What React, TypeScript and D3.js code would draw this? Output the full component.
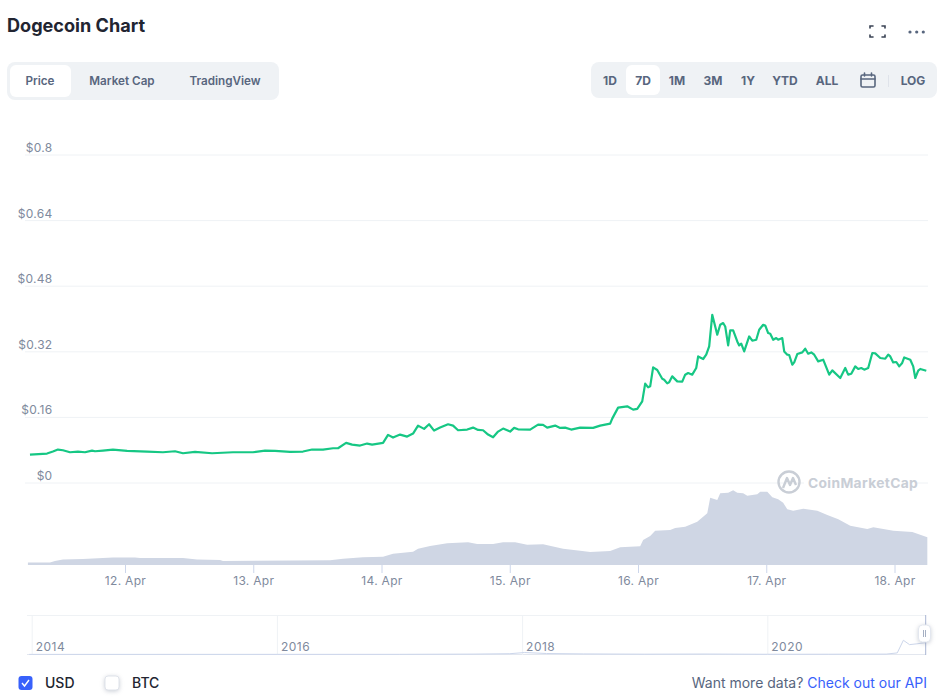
import React, { useRef, useEffect } from 'react';
import * as d3 from 'd3';

// days are April dates with the time of day as a fraction
const priceDays = [
    11.259, 11.392, 11.438, 11.477, 11.516, 11.571, 11.633, 11.688, 11.743, 11.766, 11.828, 11.906,
    12.016, 12.172, 12.296, 12.39, 12.452, 12.546, 12.679, 12.842, 12.998, 13.092, 13.17, 13.287,
    13.388, 13.459, 13.544, 13.622, 13.661, 13.724, 13.771, 13.833, 13.888, 13.927, 14.012, 14.051,
    14.09, 14.145, 14.2, 14.246, 14.285, 14.332, 14.371, 14.41, 14.457, 14.519, 14.558, 14.597,
    14.668, 14.714, 14.753, 14.792, 14.831, 14.87, 14.909, 14.948, 15.003, 15.034, 15.065, 15.159,
    15.221, 15.26, 15.292, 15.354, 15.393, 15.432, 15.479, 15.549, 15.65, 15.705, 15.744, 15.783,
    15.799, 15.845, 15.916, 15.962, 15.994, 16.033, 16.056, 16.079, 16.095, 16.118, 16.15, 16.189,
    16.204, 16.228, 16.243, 16.267, 16.306, 16.345, 16.368, 16.391, 16.423, 16.454, 16.469, 16.508,
    16.532, 16.555, 16.579, 16.602, 16.618, 16.641, 16.664, 16.68, 16.703, 16.719, 16.742, 16.774,
    16.789, 16.805, 16.828, 16.867, 16.891, 16.922, 16.945, 16.976, 16.992, 17.015, 17.031, 17.054,
    17.078, 17.093, 17.125, 17.14, 17.164, 17.179, 17.203, 17.218, 17.242, 17.281, 17.304, 17.327,
    17.351, 17.374, 17.405, 17.444, 17.491, 17.515, 17.577, 17.616, 17.639, 17.663, 17.694, 17.717,
    17.741, 17.764, 17.795, 17.827, 17.85, 17.889, 17.928, 17.951, 17.967, 17.99, 18.014, 18.037,
    18.06, 18.076, 18.123, 18.146, 18.162, 18.185, 18.201, 18.248,
];
const prices = [
    0.0682, 0.0706, 0.0755, 0.0804, 0.0787, 0.0738, 0.0755, 0.0738, 0.0779, 0.0762, 0.0779, 0.0804,
    0.0772, 0.0755, 0.0738, 0.0762, 0.0713, 0.0748, 0.0713, 0.0738, 0.0738, 0.0779, 0.0772, 0.0748,
    0.0755, 0.0804, 0.0804, 0.0835, 0.0835, 0.0967, 0.0925, 0.0901, 0.095, 0.0925, 0.0967, 0.1161,
    0.1096, 0.1169, 0.112, 0.1193, 0.1388, 0.1308, 0.142, 0.1266, 0.1339, 0.142, 0.1388, 0.1274,
    0.1291, 0.1339, 0.1283, 0.1274, 0.1169, 0.1103, 0.1242, 0.1315, 0.1242, 0.1332, 0.1298, 0.1291,
    0.1412, 0.1405, 0.1339, 0.1388, 0.1332, 0.1339, 0.1291, 0.1339, 0.1332, 0.1388, 0.1412, 0.1437,
    0.1558, 0.1826, 0.1858, 0.1778, 0.1795, 0.198, 0.2411, 0.2321, 0.2345, 0.2808, 0.2744, 0.2532,
    0.2508, 0.2418, 0.2443, 0.2589, 0.2467, 0.246, 0.263, 0.2671, 0.263, 0.2793, 0.3075, 0.3012,
    0.3117, 0.3319, 0.4091, 0.3806, 0.3604, 0.3847, 0.3889, 0.3806, 0.3343, 0.3709, 0.3709, 0.3441,
    0.3343, 0.3385, 0.3197, 0.3562, 0.3458, 0.3482, 0.3726, 0.3847, 0.3831, 0.3645, 0.3628, 0.3482,
    0.3523, 0.3482, 0.3523, 0.3197, 0.3117, 0.311, 0.2873, 0.2929, 0.3134, 0.3173, 0.3263, 0.3141,
    0.3173, 0.3117, 0.2954, 0.2995, 0.263, 0.2735, 0.2549, 0.2793, 0.263, 0.2654, 0.2832, 0.2769,
    0.2793, 0.2752, 0.2793, 0.3158, 0.3149, 0.3036, 0.3019, 0.3117, 0.3075, 0.2929, 0.2939, 0.2832,
    0.2915, 0.3051, 0.2995, 0.2832, 0.2549, 0.2727, 0.2769, 0.2727,
];

const volumeDays = [
    11.243, 11.415, 11.454, 11.516, 11.672, 11.906, 12.078, 12.117, 12.452, 12.562, 12.741, 12.764,
    13.599, 13.7, 13.856, 14.012, 14.09, 14.246, 14.285, 14.379, 14.512, 14.675, 14.746, 14.87,
    14.948, 15.042, 15.136, 15.26, 15.416, 15.549, 15.627, 15.783, 15.861, 16.017, 16.04, 16.095,
    16.134, 16.251, 16.29, 16.368, 16.462, 16.54, 16.563, 16.618, 16.641, 16.703, 16.742, 16.774,
    16.82, 16.852, 16.93, 16.953, 17.008, 17.047, 17.093, 17.132, 17.164, 17.21, 17.289, 17.398,
    17.476, 17.562, 17.655, 17.788, 17.835, 17.991, 18.139, 18.256,
];
// volume has no axis in the picture, so these are only relative heights
const volumes = [
    2.5, 2.5, 4, 5.5, 6, 7.5, 7.5, 7, 7, 5.5, 5, 4,
    4.7, 6.3, 7.7, 8.3, 11.3, 13.3, 16.3, 19, 21.7, 22.7, 21, 21,
    22.7, 22.7, 20.3, 20.7, 16.3, 14.3, 13, 14, 17.7, 18.7, 25, 29,
    34.3, 35, 37, 38.3, 43.3, 51.7, 67.3, 65, 71.7, 72.3, 74.7, 72.3,
    71.7, 69.3, 70.7, 73.3, 73.3, 67.7, 65.7, 62.3, 55.7, 54.3, 56.3, 54.3,
    50, 45.7, 39.3, 36, 37.7, 34.3, 33, 27.7,
];

const navYears = [
    2013.98, 2017, 2017.6, 2017.9, 2018.02, 2018.2, 2018.5, 2019, 2019.5, 2020, 2020.5, 2020.97,
    2021.06, 2021.11, 2021.16, 2021.22, 2021.29,
];
const navValues = [
    0.003, 0.004, 0.01, 0.02, 0.05, 0.025, 0.015, 0.008, 0.012, 0.006, 0.007, 0.01,
    0.04, 0.36, 0.25, 0.27, 0.3,
];

const dayTicks = [12, 13, 14, 15, 16, 17, 18];
const priceTicks = [0, 0.16, 0.32, 0.48, 0.64, 0.8];
const navTicks = [2014, 2016, 2018, 2020];
const tabs = ['Price', 'Market Cap', 'TradingView'];
const tabCenters = [40, 122, 225];
const ranges = ['1D', '7D', '1M', '3M', '1Y', 'YTD', 'ALL', 'LOG'];
const rangeCenters = [610, 643, 677, 713, 748, 785, 827, 913];

const font = 'Inter, sans-serif';
const labelColor = '#808a9d';

const App: React.FC = () => {
    const svgRef = useRef<SVGSVGElement | null>(null);

    useEffect(() => {
        if (!svgRef.current) return;
        const svg = d3.select(svgRef.current);
        svg.selectAll('*').remove();

        const x = d3.scaleLinear().domain([12, 18]).range([125, 894.5]);
        const y = d3.scaleLinear().domain([0, 0.8]).range([482.5, 154.5]);
        const yVol = d3.scaleLinear().domain([0, 75]).range([565, 490]);
        const xNav = d3.scaleLinear().domain([2014, 2020]).range([31.7, 767.3]);
        const yNav = d3.scaleLinear().domain([0, 1]).range([654.5, 615]);

        const text = (
            str: string, tx: number, ty: number, size: number, weight: number,
            color: string, anchor = 'start',
        ) => svg.append('text')
            .attr('x', tx).attr('y', ty)
            .attr('font-family', font).attr('font-size', size).attr('font-weight', weight)
            .attr('fill', color).attr('text-anchor', anchor)
            .text(str);

        const box = (bx: number, by: number, w: number, h: number, r: number, fill: string) =>
            svg.append('rect')
                .attr('x', bx).attr('y', by).attr('width', w).attr('height', h).attr('rx', r)
                .attr('fill', fill);

        // header
        text('Dogecoin Chart', 7, 32, 18.1, 700, '#222531');
        box(7, 62, 272, 38, 8, '#eff2f5');
        box(10, 65, 61, 32, 6, '#ffffff');
        tabs.forEach((t, i) => text(t, tabCenters[i], 85, 11.7, 600, '#58667e', 'middle'));

        box(591, 62, 346, 36, 8, '#eff2f5');
        box(626, 65, 34, 30, 6, '#ffffff');
        ranges.forEach((t, i) => text(t, rangeCenters[i], 85, 12, 700, '#58667e', 'middle'));
        svg.append('line').attr('x1', 888.5).attr('x2', 888.5).attr('y1', 75).attr('y2', 87)
            .attr('stroke', '#dfe3ea');

        // calendar icon
        const icons = svg.append('g').attr('fill', 'none').attr('stroke', '#58667e')
            .attr('stroke-width', 1.6).attr('stroke-linecap', 'round');
        icons.append('rect').attr('x', 861).attr('y', 75).attr('width', 14).attr('height', 12).attr('rx', 1.5);
        icons.append('path').attr('d', 'M861 79H875M864.5 73V76M871.5 73V76');
        // fullscreen corners
        icons.append('path')
            .attr('stroke', '#3a4354')
            .attr('d', 'M870 28V26H873M882 26H885V28M885 35V37H882M873 37H870V35');
        [910, 916.7, 923.3].forEach(cx => {
            svg.append('circle').attr('cx', cx).attr('cy', 32).attr('r', 1.6).attr('fill', '#58667e');
        });

        // price grid
        const grid = svg.append('g')
            .attr('transform', 'translate(25,0)')
            .call(d3.axisRight(y).tickValues(priceTicks).tickSize(903).tickFormat(() => ''));
        grid.select('.domain').remove();
        grid.selectAll('line').attr('stroke', '#eff2f5');

        // watermark sits under the line and over the grid
        const mark = svg.append('g').attr('fill', 'none').attr('stroke', '#c9ced6').attr('stroke-width', 2.4);
        mark.append('circle').attr('cx', 789).attr('cy', 482).attr('r', 10.5);
        mark.append('path').attr('stroke-linejoin', 'round')
            .attr('d', 'M783 488L787 478L790 485L793 478L796 485');
        svg.append('rect').attr('x', 804).attr('y', 475).attr('width', 113).attr('height', 15).attr('fill', '#fff');
        text('CoinMarketCap', 808, 488, 13.8, 700, '#c9ced6').attr('letter-spacing', 0.35);

        const yAxis = svg.append('g')
            .attr('transform', 'translate(52.5,0)')
            .call(d3.axisLeft(y).tickValues(priceTicks).tickSize(0).tickPadding(0)
                .tickFormat(d => `$${d}`));
        yAxis.select('.domain').remove();
        yAxis.selectAll('text')
            .attr('dy', -3).attr('font-family', font).attr('font-size', 12)
            .attr('letter-spacing', 0.3).attr('fill', labelColor);

        // volume
        const volumeArea = d3.area<number>()
            .x((_, i) => x(volumeDays[i]))
            .y0(yVol(0))
            .y1(d => yVol(d));
        svg.append('path').datum(volumes).attr('d', volumeArea).attr('fill', '#cfd6e4');

        const xAxis = svg.append('g')
            .attr('transform', 'translate(0,565)')
            .call(d3.axisBottom(x).tickValues(dayTicks).tickSize(8).tickPadding(3)
                .tickFormat(d => `${d}. Apr`));
        xAxis.select('.domain').remove();
        xAxis.selectAll('line').attr('stroke', '#ccd6eb');
        xAxis.selectAll('text')
            .attr('font-family', font).attr('font-size', 12)
            .attr('letter-spacing', 0.3).attr('fill', labelColor);

        // price
        const priceLine = d3.line<number>()
            .x((_, i) => x(priceDays[i]))
            .y(d => y(d));
        svg.append('path').datum(prices)
            .attr('d', priceLine)
            .attr('fill', 'none')
            .attr('stroke', '#16c784')
            .attr('stroke-width', 2.2)
            .attr('stroke-linejoin', 'round');

        // navigator
        svg.append('line').attr('x1', 27).attr('x2', 926).attr('y1', 615.5).attr('y2', 615.5)
            .attr('stroke', '#eff2f5');
        svg.append('line').attr('x1', 27).attr('x2', 926).attr('y1', 654.5).attr('y2', 654.5)
            .attr('stroke', '#e3e7ef');
        const navAxis = svg.append('g')
            .attr('transform', 'translate(0,615)')
            .call(d3.axisBottom(xNav).tickValues(navTicks).tickSize(40).tickPadding(0)
                .tickFormat(d => `${d}`));
        navAxis.select('.domain').remove();
        navAxis.selectAll('line').attr('stroke', '#eff2f5');
        navAxis.selectAll('text')
            .attr('text-anchor', 'start').attr('dx', 3.5).attr('y', 36).attr('dy', 0)
            .attr('font-family', font).attr('font-size', 12)
            .attr('letter-spacing', 0.5).attr('fill', labelColor);

        const navLine = d3.line<number>()
            .x((_, i) => xNav(navYears[i]))
            .y(d => yNav(d));
        svg.append('path').datum(navValues)
            .attr('d', navLine).attr('fill', 'none').attr('stroke', '#ccd6eb').attr('stroke-width', 1);
        svg.append('line').attr('x1', 925.7).attr('x2', 925.7).attr('y1', 615).attr('y2', 655)
            .attr('stroke', '#a9b6d3');
        box(918.5, 625, 12, 17, 4, '#ffffff')
            .attr('stroke', '#e3e7ef')
            .style('filter', 'drop-shadow(0 1px 2px rgba(88,102,126,0.3))');
        svg.append('path').attr('d', 'M923.5 630V637M925.5 630V637').attr('stroke', '#a6b0c3');

        // footer
        box(18.5, 676, 14, 14, 3, '#3861fb');
        svg.append('path').attr('d', 'M22 683L24.5 686L29 680')
            .attr('fill', 'none').attr('stroke', '#fff').attr('stroke-width', 1.4);
        text('USD', 45, 688, 14, 500, '#222531');
        box(105, 676, 14, 14, 3, '#ffffff')
            .attr('stroke', '#dfe3ea')
            .style('filter', 'drop-shadow(0 1px 2px rgba(88,102,126,0.3))');
        text('BTC', 132, 688, 14, 500, '#222531');

        const api = text('Want more data? ', 927, 688, 14, 400, '#58667e', 'end');
        api.append('tspan').attr('fill', '#3861fb').text('Check out our API');
    }, []);

    return (
        <svg
            ref={svgRef}
            width={940}
            height={700}
            style={{ position: 'absolute', left: 0, top: 0, background: '#fff' }}
        />
    );
};

export default App;
